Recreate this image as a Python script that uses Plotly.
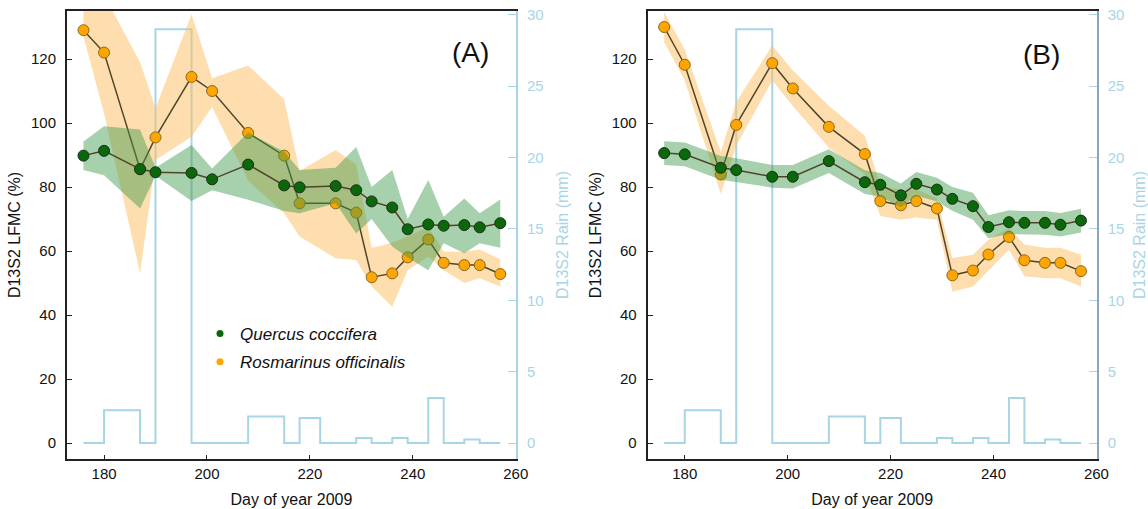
import plotly.graph_objects as go

# ---------------- data ----------------
days_a = [176, 180, 187, 190, 197, 201, 208, 215, 218, 225, 229, 232, 236, 239, 243, 246, 250, 253, 257]
qc_a = [89.8, 91.3, 85.6, 84.6, 84.4, 82.4, 87.0, 80.5, 79.9, 80.3, 79.0, 75.5, 73.6, 66.8, 68.3, 67.9, 68.1, 67.4, 68.7]
qc_a_lo = [85.3, 83.7, 73.3, 83.5, 75.6, 79.0, 76.0, 72.5, 71.8, 74.9, 65.5, 70.0, 61.4, 58.0, 54.0, 62.4, 59.3, 62.4, 61.0]
qc_a_hi = [94.2, 99.0, 98.0, 86.0, 93.1, 85.8, 97.0, 91.0, 85.3, 86.0, 92.5, 80.0, 85.3, 70.0, 82.2, 70.7, 76.4, 71.8, 76.1]
ro_a = [129.0, 122.0, 85.5, 95.5, 114.4, 110.0, 96.9, 89.8, 74.9, 74.9, 72.0, 51.8, 53.0, 58.0, 63.6, 56.3, 55.6, 55.6, 52.8]
ro_a_lo = [127.0, 103.0, 53.0, 88.4, 95.7, 105.0, 82.0, 71.8, 64.5, 57.7, 57.2, 48.9, 42.6, 54.0, 58.2, 54.0, 50.0, 51.5, 48.9]
ro_a_hi = [145.0, 140.0, 119.0, 104.6, 134.0, 114.0, 118.0, 107.4, 85.0, 91.6, 87.0, 60.9, 62.6, 64.5, 67.6, 59.8, 59.8, 60.5, 57.4]

days_b = [176, 180, 187, 190, 197, 201, 208, 215, 218, 222, 225, 229, 232, 236, 239, 243, 246, 250, 253, 257]
qc_b = [90.6, 90.2, 86.0, 85.3, 83.2, 83.2, 88.1, 81.5, 80.7, 77.4, 81.0, 79.2, 76.3, 74.0, 67.5, 69.0, 68.8, 68.8, 68.2, 69.5]
qc_b_lo = [86.9, 86.5, 82.3, 81.6, 79.8, 79.5, 84.4, 77.8, 77.0, 73.7, 77.3, 75.5, 72.6, 69.8, 64.0, 65.3, 65.1, 65.1, 64.5, 65.8]
qc_b_hi = [94.3, 93.9, 89.7, 89.0, 86.9, 86.9, 91.8, 85.2, 84.4, 81.1, 84.7, 82.9, 80.0, 78.2, 71.2, 72.7, 72.5, 72.5, 71.9, 73.2]
ro_b = [130.0, 118.2, 83.9, 99.4, 118.7, 110.8, 98.8, 90.3, 75.6, 74.3, 75.6, 73.3, 52.4, 53.9, 58.9, 64.4, 57.1, 56.3, 56.3, 53.7]
ro_b_lo = [125.3, 113.3, 77.8, 92.9, 113.3, 105.3, 92.3, 84.0, 70.9, 69.8, 70.5, 69.8, 47.3, 48.9, 54.0, 60.4, 52.1, 51.5, 51.5, 48.9]
ro_b_hi = [134.7, 123.0, 90.9, 106.6, 124.2, 116.4, 105.4, 96.0, 80.5, 79.0, 79.2, 76.5, 57.8, 58.8, 63.5, 67.2, 62.0, 61.0, 61.0, 58.8]

# rain (mm) starting at each day, held until next day (step)
rain_days = [176, 180, 187, 190, 197, 208, 215, 218, 222, 229, 232, 236, 239, 243, 246, 250, 253, 257]
rain_mm = [0, 2.3, 0, 29.0, 0, 1.85, 0, 1.75, 0, 0.35, 0, 0.35, 0, 3.15, 0, 0.25, 0, 0]

x_ticks = [180, 200, 220, 240, 260]
lfmc_ticks = [0, 20, 40, 60, 80, 100, 120]
rain_ticks = [0, 5, 10, 15, 20, 25, 30]
species = ["Quercus coccifera", "Rosmarinus officinalis"]
panel_labels = ["(A)", "(B)"]

# ---------------- style ----------------
FONT = "Liberation Sans, Arial, sans-serif"
RAIN_C = "#a8d5e6"
GREEN = "#0a680a"
ORANGE = "#ffa500"
GREEN_BAND = "rgba(60,150,70,0.45)"
ORANGE_BAND = "rgba(253,190,95,0.5)"
LINE_C = "#4e4628"

fig = go.Figure()


def add_panel(xa, yrain, ylf, days, qc, qlo, qhi, ro, rlo, rhi):
    fig.add_trace(go.Scatter(x=rain_days, y=rain_mm, mode="lines", line=dict(color=RAIN_C, width=2, shape="hv"),
                             xaxis=xa, yaxis=yrain, showlegend=False, hoverinfo="skip"))
    fig.add_trace(go.Scatter(x=days + days[::-1], y=rhi + rlo[::-1], fill="toself", fillcolor=ORANGE_BAND,
                             line=dict(width=0), mode="lines", xaxis=xa, yaxis=ylf, showlegend=False, hoverinfo="skip"))
    fig.add_trace(go.Scatter(x=days, y=ro, mode="lines+markers", line=dict(color=LINE_C, width=1.5),
                             marker=dict(color=ORANGE, size=11, line=dict(color="#8a6a20", width=1)),
                             xaxis=xa, yaxis=ylf, showlegend=False))
    fig.add_trace(go.Scatter(x=days + days[::-1], y=qhi + qlo[::-1], fill="toself", fillcolor=GREEN_BAND,
                             line=dict(width=0), mode="lines", xaxis=xa, yaxis=ylf, showlegend=False, hoverinfo="skip"))
    fig.add_trace(go.Scatter(x=days, y=qc, mode="lines+markers", line=dict(color=LINE_C, width=1.5),
                             marker=dict(color=GREEN, size=11, line=dict(color="#1c2e1c", width=1)),
                             xaxis=xa, yaxis=ylf, showlegend=False))


add_panel("x", "y", "y2", days_a, qc_a, qc_a_lo, qc_a_hi, ro_a, ro_a_lo, ro_a_hi)
add_panel("x2", "y3", "y4", days_b, qc_b, qc_b_lo, qc_b_hi, ro_b, ro_b_lo, ro_b_hi)

# legend-only traces
for i, (name, col) in enumerate(zip(species, [GREEN, ORANGE])):
    fig.add_trace(go.Scatter(x=[None], y=[None], mode="markers", name="<i>" + name + "</i>",
                             legendgroup="g%d" % i,
                             marker=dict(color=col, size=7), xaxis="x", yaxis="y2"))

top_px, bot_px = 11, 459
H, W = 509, 1148
ydom = [1 - bot_px / H, 1 - top_px / H]
dom_a = [67 / W, 516 / W]
dom_b = [647.7 / W, 1096.7 / W]

tickfont = dict(family=FONT, size=15, color="#111")
titlefont = dict(family=FONT, size=16, color="#111")
rainfont = dict(family=FONT, size=15, color=RAIN_C)
raintitle = dict(family=FONT, size=16, color=RAIN_C)


def xaxis(dom, anchor):
    return dict(domain=dom, anchor=anchor, range=[172.8, 260.05], tickvals=x_ticks, ticks="inside", ticklen=4,
                tickcolor="#222", showline=True, linecolor="#222", linewidth=2, mirror=True, showgrid=False,
                zeroline=False, tickfont=tickfont, automargin=False,
                title=dict(text="Day of year 2009", font=titlefont, standoff=13))


def rain_axis(anchor, linecol):
    return dict(domain=ydom, anchor=anchor, side="right", range=[-1.12, 30.27], tickvals=rain_ticks,
                ticks="inside", ticklen=8, tickcolor=RAIN_C, showline=True, linecolor=linecol, linewidth=2,
                showgrid=False, zeroline=False, tickfont=rainfont, ticklabelstandoff=6, automargin=False,
                title=dict(text="D13S2 Rain (mm)", font=raintitle, standoff=14))


def lf_axis(anchor, over):
    return dict(domain=ydom, anchor=anchor, overlaying=over, side="left", range=[-5, 135], tickvals=lfmc_ticks,
                ticks="inside", ticklen=5, tickcolor="#222", showline=True, linecolor="#222", linewidth=2,
                showgrid=False, zeroline=False, tickfont=tickfont, ticklabelstandoff=6, automargin=False,
                title=dict(text="D13S2 LFMC (%)", font=titlefont, standoff=6))


fig.update_layout(
    width=W, height=H, margin=dict(l=0, r=0, t=0, b=0, autoexpand=False),
    paper_bgcolor="white", plot_bgcolor="rgba(0,0,0,0)",
    xaxis=xaxis(dom_a, "y"), xaxis2=xaxis(dom_b, "y3"),
    yaxis=rain_axis("x", RAIN_C), yaxis2=lf_axis("x", "y"),
    yaxis3=rain_axis("x2", "#8aa6b8"), yaxis4=lf_axis("x2", "y3"),
    showlegend=True,
    legend=dict(x=200 / W, y=1 - 316 / H, xanchor="left", yanchor="top", bgcolor="rgba(0,0,0,0)",
                font=dict(family=FONT, size=17, color="#111"), tracegroupgap=3, traceorder="grouped"),
    annotations=[
        dict(text=panel_labels[0], x=470 / W, y=1 - 35 / H, xref="paper", yref="paper", showarrow=False,
             font=dict(family=FONT, size=28, color="#111")),
        dict(text=panel_labels[1], x=1062 / W, y=1 - 37 / H, xref="paper", yref="paper", showarrow=False,
             font=dict(family=FONT, size=28, color="#111")),
    ],
)

fig.write_html("out.html", config={"displayModeBar": False},
               post_script="document.body.style.margin='0';document.body.style.overflow='hidden';")
